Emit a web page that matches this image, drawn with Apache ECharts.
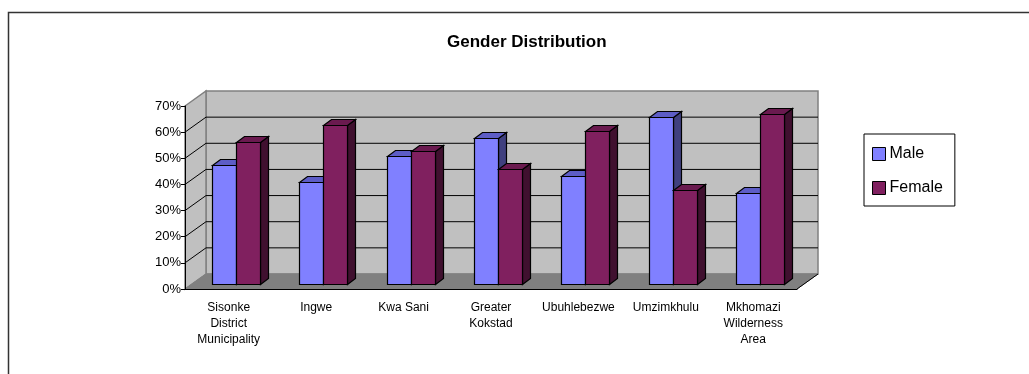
<!DOCTYPE html>
<html>
<head>
<meta charset="utf-8">
<script src="https://cdn.jsdelivr.net/npm/echarts@6/dist/echarts.min.js"></script>
<style>
  html, body { margin: 0; padding: 0; background: #fff; }
  #chart { width: 1029px; height: 374px; }
</style>
</head>
<body>
<div id="chart"></div>
<script>
// data
var categories = ['Sisonke\nDistrict\nMunicipality', 'Ingwe', 'Kwa Sani', 'Greater\nKokstad', 'Ubuhlebezwe', 'Umzimkhulu', 'Mkhomazi\nWilderness\nArea'];
var male = [0.455, 0.39, 0.49, 0.56, 0.415, 0.64, 0.35];
var female = [0.545, 0.61, 0.51, 0.44, 0.585, 0.36, 0.65];
var yTicks = [0, 0.1, 0.2, 0.3, 0.4, 0.5, 0.6, 0.7];

// 3d look: back wall offset, bar plane offset, bar depth
var DX = 21, DY = -15;
var BX = 7, BY = -5;
var DDX = 8, DDY = -6;
var BAR_RATIO = 0.275;

var chartDom = document.getElementById('chart');
var myChart = echarts.init(chartDom);

function wallsItem(params, api) {
    var cs = params.coordSys;
    var x0 = cs.x, x1 = cs.x + cs.width;
    var y0 = api.coord([0, 0])[1];
    var yMax = api.coord([0, yTicks[yTicks.length - 1]])[1];
    var children = [];
    // back wall
    children.push({
        type: 'polygon',
        shape: { points: [[x0 + DX, yMax + DY], [x1 + DX, yMax + DY], [x1 + DX, y0 + DY], [x0 + DX, y0 + DY]] },
        style: { fill: '#c0c0c0', stroke: '#808080', lineWidth: 1.5 }
    });
    // left wall
    children.push({
        type: 'polygon',
        shape: { points: [[x0, yMax], [x0 + DX, yMax + DY], [x0 + DX, y0 + DY], [x0, y0]] },
        style: { fill: '#c0c0c0', stroke: '#808080', lineWidth: 1.5 }
    });
    // floor
    children.push({
        type: 'polygon',
        shape: { points: [[x0, y0], [x1, y0], [x1 + DX, y0 + DY], [x0 + DX, y0 + DY]] },
        style: { fill: '#808080', stroke: '#808080', lineWidth: 1 }
    });
    children.push({
        type: 'line',
        shape: { x1: x1, y1: y0, x2: x1 + DX, y2: y0 + DY },
        style: { stroke: '#000', lineWidth: 1 }
    });
    // grid lines on the walls
    for (var i = 1; i < yTicks.length - 1; i++) {
        var yv = api.coord([0, yTicks[i]])[1];
        children.push({
            type: 'polyline',
            shape: { points: [[x0, yv], [x0 + DX, yv + DY], [x1 + DX, yv + DY]] },
            style: { stroke: '#000', lineWidth: 1, fill: null }
        });
    }
    return { type: 'group', children: children };
}

function barItem(first, topColor, sideColor) {
    return function (params, api) {
        var c = api.value(0), v = api.value(1);
        var top = api.coord([c, v]);
        var base = api.coord([c, 0]);
        var band = api.size([1, 0])[0];
        var w = Math.round(band * BAR_RATIO);
        var left = Math.round(top[0] + BX + (first ? -w : 0)) + 0.5;
        var yTop = Math.round(top[1] + BY) + 0.5;
        var yBase = Math.round(base[1] + BY) + 0.5;
        var line = { stroke: '#000', lineWidth: 1.2 };
        return {
            type: 'group',
            children: [
                {
                    type: 'polygon',
                    shape: { points: [[left + w, yTop], [left + w + DDX, yTop + DDY], [left + w + DDX, yBase + DDY], [left + w, yBase]] },
                    style: Object.assign({ fill: sideColor }, line)
                },
                {
                    type: 'polygon',
                    shape: { points: [[left, yTop], [left + DDX, yTop + DDY], [left + w + DDX, yTop + DDY], [left + w, yTop]] },
                    style: Object.assign({ fill: topColor }, line)
                },
                {
                    type: 'rect',
                    shape: { x: left, y: yTop, width: w, height: yBase - yTop },
                    style: Object.assign({ fill: api.visual('color') }, line)
                }
            ]
        };
    };
}

var font = 'Liberation Sans, Arial, sans-serif';

var option = {
    animation: false,
    backgroundColor: '#fff',
    title: {
        text: 'Gender Distribution',
        left: 442,
        top: 29,
        textStyle: { fontSize: 17, fontWeight: 'bold', color: '#000', fontFamily: font }
    },
    legend: {
        data: ['Male', 'Female'],
        orient: 'vertical',
        left: 864,
        top: 134,
        padding: [12, 12, 10, 8],
        itemWidth: 13,
        itemHeight: 13,
        itemGap: 18,
        icon: 'rect',
        borderColor: '#000',
        borderWidth: 1,
        itemStyle: { borderColor: '#000', borderWidth: 1 },
        textStyle: { fontSize: 16, color: '#000', fontFamily: font, padding: [0, 0, 0, -1] }
    },
    grid: { left: 185, right: 232, top: 106, bottom: 85 },
    xAxis: {
        type: 'category',
        data: categories,
        z: 5,
        axisLine: { lineStyle: { color: '#000', width: 1 } },
        axisTick: { length: 5, lineStyle: { color: '#000' } },
        axisLabel: { interval: 0, fontSize: 12, lineHeight: 16, margin: 11, color: '#000', fontFamily: font }
    },
    yAxis: {
        type: 'value',
        min: 0,
        max: 0.7,
        interval: 0.1,
        z: 5,
        splitLine: { show: false },
        axisLine: { show: true, lineStyle: { color: '#000', width: 1 } },
        axisTick: { show: true, length: 4, lineStyle: { color: '#000' } },
        axisLabel: {
            fontSize: 13, margin: 4, color: '#000', fontFamily: font,
            formatter: function (v) { return Math.round(v * 100) + '%'; }
        }
    },
    graphic: [
        {
            type: 'rect',
            shape: { x: 8.5, y: 12.5, width: 1100, height: 500 },
            style: { fill: null, stroke: '#333', lineWidth: 1.5 },
            silent: true
        }
    ],
    series: [
        {
            name: 'walls',
            type: 'custom',
            z: 1,
            silent: true,
            renderItem: wallsItem,
            data: [[0, 0]]
        },
        {
            name: 'Male',
            type: 'custom',
            z: 2,
            itemStyle: { color: '#8080ff' },
            renderItem: barItem(true, '#5d5dc6', '#40407f'),
            encode: { x: 0, y: 1 },
            data: male.map(function (v, i) { return [i, v]; })
        },
        {
            name: 'Female',
            type: 'custom',
            z: 3,
            itemStyle: { color: '#80205f' },
            renderItem: barItem(false, '#6a1a4f', '#40102f'),
            encode: { x: 0, y: 1 },
            data: female.map(function (v, i) { return [i, v]; })
        }
    ]
};

myChart.setOption(option);
window.addEventListener('resize', myChart.resize);
</script>
</body>
</html>
